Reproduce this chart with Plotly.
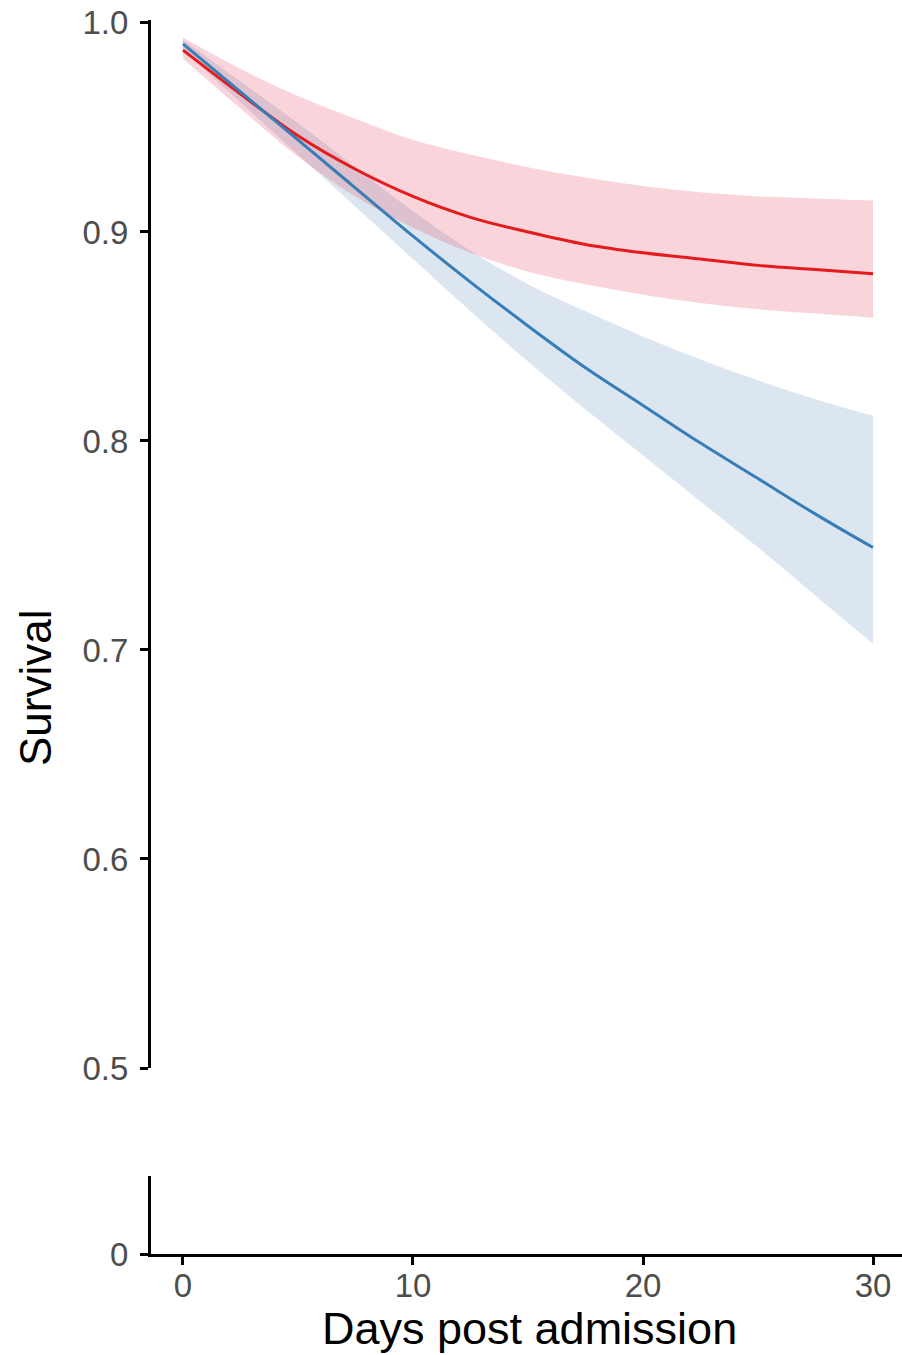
import plotly.graph_objects as go

days = [0, 2.5, 5, 7.5, 10, 12.5, 15, 17.5, 20, 22.5, 25, 27.5, 30]

red_surv = [0.987, 0.966, 0.946, 0.930, 0.917, 0.907, 0.900, 0.894, 0.890, 0.887, 0.884, 0.882, 0.880]
red_upper = [0.993, 0.978, 0.965, 0.954, 0.944, 0.937, 0.931, 0.926, 0.922, 0.919, 0.917, 0.916, 0.915]
red_lower = [0.983, 0.959, 0.936, 0.917, 0.902, 0.890, 0.881, 0.875, 0.870, 0.866, 0.863, 0.861, 0.859]

blue_surv = [0.990, 0.967, 0.944, 0.921, 0.898, 0.876, 0.855, 0.835, 0.817, 0.799, 0.782, 0.765, 0.749]
blue_upper = [0.992, 0.972, 0.952, 0.931, 0.910, 0.891, 0.875, 0.862, 0.850, 0.839, 0.829, 0.820, 0.812]
blue_lower = [0.987, 0.962, 0.937, 0.912, 0.887, 0.862, 0.838, 0.815, 0.793, 0.771, 0.749, 0.726, 0.703]

upper_ticks = [0.5, 0.6, 0.7, 0.8, 0.9, 1.0]
upper_ticktext = ["0.5", "0.6", "0.7", "0.8", "0.9", "1.0"]
lower_ticks = [0]
lower_ticktext = ["0"]
x_ticks = [0, 10, 20, 30]
x_ticktext = ["0", "10", "20", "30"]

RED = "#E41A1C"
BLUE = "#377EB8"
RED_FILL = "rgba(225,45,75,0.2)"
BLUE_FILL = "rgba(80,130,185,0.2)"

fig = go.Figure()

# anchor trace for the lower (broken) panel so its axes are drawn
fig.add_trace(go.Scatter(x=[None], y=[None], mode="lines", showlegend=False, hoverinfo="skip",
                         xaxis="x", yaxis="y"))

def band(lower, upper, fill):
    fig.add_trace(go.Scatter(x=days, y=lower, mode="lines", line=dict(width=0, shape="spline"),
                             hoverinfo="skip", showlegend=False, xaxis="x", yaxis="y2"))
    fig.add_trace(go.Scatter(x=days, y=upper, mode="lines", line=dict(width=0, shape="spline"),
                             fill="tonexty", fillcolor=fill, hoverinfo="skip", showlegend=False,
                             xaxis="x", yaxis="y2"))

band(blue_lower, blue_upper, BLUE_FILL)
band(red_lower, red_upper, RED_FILL)

fig.add_trace(go.Scatter(x=days, y=red_surv, mode="lines", line=dict(color=RED, width=3, shape="spline"),
                         showlegend=False, xaxis="x", yaxis="y2"))
fig.add_trace(go.Scatter(x=days, y=blue_surv, mode="lines", line=dict(color=BLUE, width=3, shape="spline"),
                         showlegend=False, xaxis="x", yaxis="y2"))

W, H = 902, 1355

def fx(px):
    return px / W

def fy(py):
    return 1 - py / H

tickfont = dict(family="Liberation Sans, Arial, sans-serif", size=33, color="#4D4D4D")
titlefont = dict(family="Liberation Sans, Arial, sans-serif", size=44, color="#000000")
xrange = [-1.39, 31.26]

axis_common = dict(showgrid=False, zeroline=False, showline=True, linecolor="black", linewidth=3,
                   ticks="outside", ticklen=8, tickwidth=3, tickcolor="black", tickfont=tickfont,
                   automargin=False, ticklabeloverflow="allow")

fig.update_layout(
    template="none",
    width=W, height=H,
    margin=dict(l=0, r=0, t=0, b=0, pad=0),
    plot_bgcolor="white", paper_bgcolor="white",
    showlegend=False,
    xaxis=dict(domain=[fx(151), 1.0], range=xrange, anchor="y", tickvals=x_ticks, ticktext=x_ticktext,
               ticklabelstandoff=-8, **axis_common),
    yaxis=dict(domain=[fy(1254), fy(1176)], range=[0, 0.1], anchor="x",
               tickvals=lower_ticks, ticktext=lower_ticktext, ticklabelstandoff=5, **axis_common),
    yaxis2=dict(domain=[fy(1068), fy(20)], range=[0.5, 1.0014], anchor="x",
                tickvals=upper_ticks, ticktext=upper_ticktext, ticklabelstandoff=5, **axis_common),
    annotations=[
        dict(text="Survival", xref="paper", yref="paper", x=fx(35), y=fy(688),
             textangle=-90, showarrow=False, font=titlefont, xanchor="center", yanchor="middle"),
        dict(text="Days post admission", xref="paper", yref="paper", x=fx(529), y=fy(1328),
             showarrow=False, font=dict(titlefont, size=45), xanchor="center", yanchor="middle"),
    ],
)

fig.write_html("out.html", config={"displayModeBar": False},
               post_script="document.body.style.margin='0';")
